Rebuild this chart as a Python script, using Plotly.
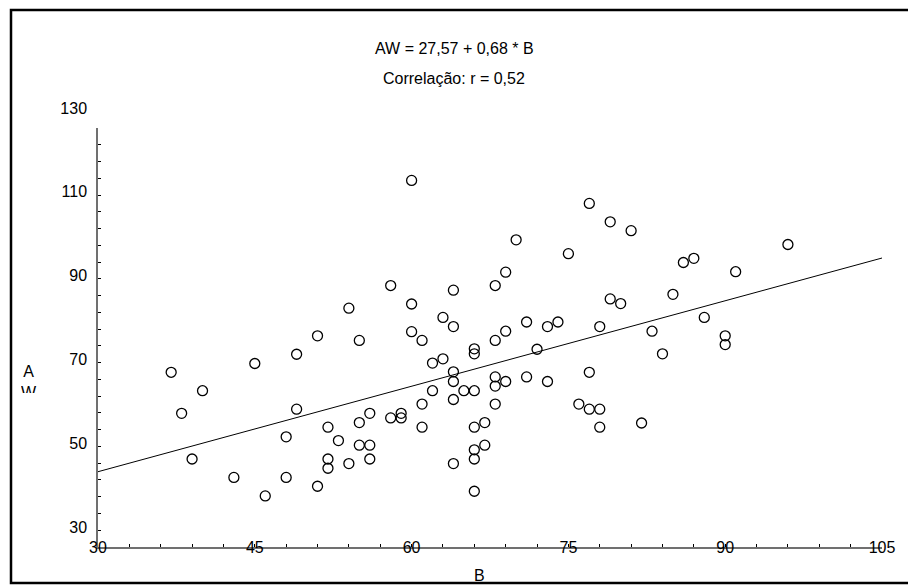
import plotly.graph_objects as go

# ---- data ----
B = [51, 37, 45, 49, 40, 38, 49, 52, 48, 53, 39, 52, 52, 54, 43, 48, 51, 46,
     60, 77, 70, 75, 69, 58, 68, 64, 54, 60, 63, 64, 71, 73, 74, 60, 61, 55, 69, 68, 66, 72,
     66, 62, 63, 64, 68, 69, 71, 73, 77, 64, 62, 65, 66, 68, 64, 61, 68, 76, 77,
     56, 55, 58, 59, 59, 61, 66, 67, 55, 56, 56, 64, 66, 66, 67, 66,
     79, 81, 86, 87, 96, 91, 85, 79, 80, 78, 88, 83, 90, 90, 84, 78, 78, 82]
AW = [80.4, 71.7, 73.8, 76.0, 67.3, 61.9, 62.9, 58.6, 56.3, 55.4, 51.0, 51.0, 48.8, 49.9, 46.6, 46.6, 44.5, 42.2,
      117.5, 112.0, 103.3, 100.0, 95.6, 92.4, 92.4, 91.3, 87.0, 88.0, 84.8, 82.6, 83.7, 82.6, 83.7, 81.4, 79.3, 79.3, 81.5, 79.3, 77.3, 77.2,
      76.1, 73.9, 74.9, 71.8, 70.6, 69.5, 70.6, 69.5, 71.7, 69.5, 67.3, 67.3, 67.3, 68.4, 65.2, 64.1, 64.1, 64.1, 62.9,
      61.9, 59.7, 60.8, 61.9, 60.8, 58.6, 58.6, 59.7, 54.3, 54.3, 51.0, 49.9, 53.2, 51.0, 54.3, 43.3,
      107.6, 105.5, 97.9, 98.9, 102.2, 95.7, 90.3, 89.2, 88.1, 82.6, 84.8, 81.5, 80.4, 78.3, 76.1, 62.9, 58.6, 59.6]

intercept = 27.57
slope = 0.68
line_B = [30, 105]

x_tickvals = [30, 45, 60, 75, 90, 105]
x_ticktext = ["30", "45", "60", "75", "90", "105"]
y_tickvals = [30, 50, 70, 90, 110, 130]
y_ticktext = ["30", "50", "70", "90", "110", "130"]

title1 = "AW = 27,57 + 0,68 * B"
title2 = "Correlação: r = 0,52"
xlabel = "B"
ylabel = "A<br>W"

FONT = "Liberation Sans, Arial, sans-serif"
FS = 16

fig = go.Figure()
fig.add_trace(go.Scatter(
    x=B, y=AW, mode="markers",
    marker=dict(symbol="circle-open", size=10, color="black", line=dict(width=1.3)),
    showlegend=False, cliponaxis=False))
fig.add_trace(go.Scatter(
    x=line_B, y=[intercept + slope * b for b in line_B], mode="lines",
    line=dict(color="black", width=1), showlegend=False))

axis_common = dict(
    showgrid=False, zeroline=False, showline=True, linecolor="#707070", linewidth=1.5,
    ticks="inside", ticklen=3, tickcolor="black", tickwidth=1,
    tickfont=dict(family=FONT, size=FS, color="black"),
)
fig.update_xaxes(range=[30, 105], tickmode="array", tickvals=x_tickvals, ticktext=x_ticktext,
                 minor=dict(tick0=30, dtick=3, ticks="inside", ticklen=3, tickcolor="black"),
                 ticklabelstandoff=-15, **axis_common)
fig.update_yaxes(range=[30, 130], tickmode="array", tickvals=y_tickvals, ticktext=y_ticktext,
                 minor=dict(tick0=30, dtick=4, ticks="inside", ticklen=3, tickcolor="black"),
                 ticklabelshift=-20, ticklabelstandoff=6, **axis_common)

L, R, T, Bm = 98, 882, 128, 547
W, H = 908, 586
def px(x):
    return (x - L) / (R - L)
def py(y):
    return (Bm - y) / (Bm - T)

ann_font = dict(family=FONT, size=FS, color="black")
fig.add_annotation(text=title1, xref="paper", yref="paper", x=px(454), y=py(49),
                   xanchor="center", yanchor="middle", showarrow=False, font=ann_font)
fig.add_annotation(text=title2, xref="paper", yref="paper", x=px(454), y=py(79),
                   xanchor="center", yanchor="middle", showarrow=False, font=ann_font)
fig.add_annotation(text=xlabel, xref="paper", yref="paper", x=px(479), y=py(575),
                   xanchor="center", yanchor="middle", showarrow=False, font=ann_font)
fig.add_annotation(text=ylabel, xref="paper", yref="paper", x=px(29), y=py(362),
                   xanchor="center", yanchor="top", valign="top", height=30, borderpad=0,
                   showarrow=False, font=ann_font)

fig.add_shape(type="rect", xref="paper", yref="paper",
              x0=px(11), x1=px(912), y0=py(583), y1=py(10),
              line=dict(color="black", width=2.5), fillcolor="rgba(0,0,0,0)")

fig.update_layout(
    width=W, height=H,
    margin=dict(l=L, r=W - R, t=T, b=H - Bm),
    paper_bgcolor="white", plot_bgcolor="white",
    font=dict(family=FONT, size=FS, color="black"),
)

fig.write_html("out.html")
